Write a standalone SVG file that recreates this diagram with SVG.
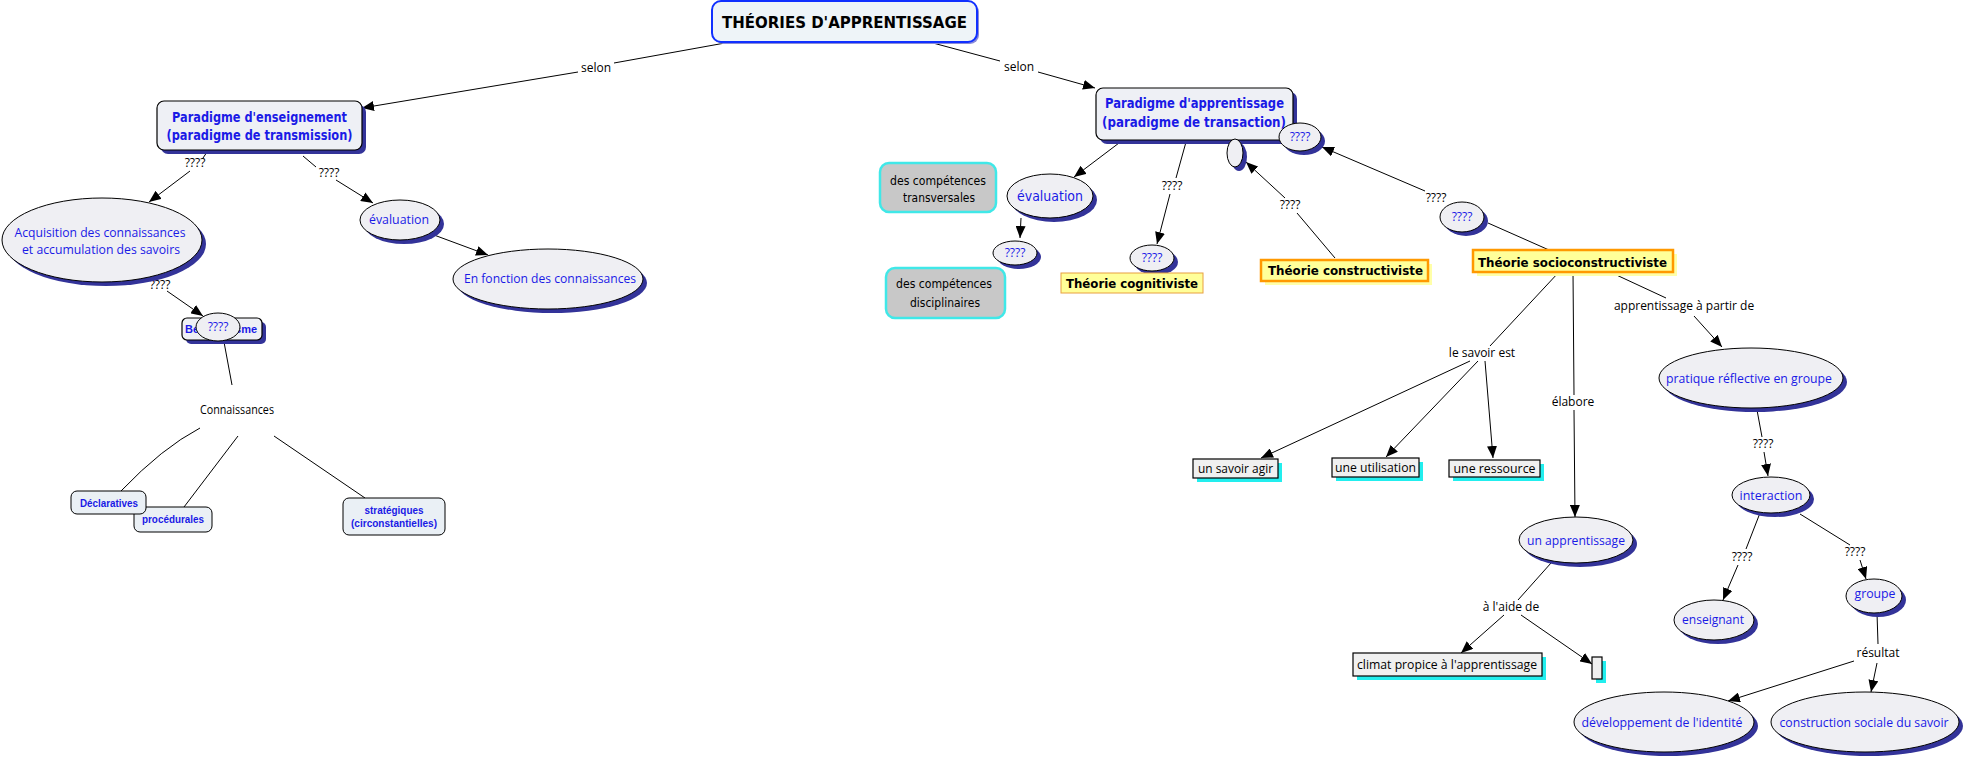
<svg xmlns="http://www.w3.org/2000/svg" width="1963" height="758" viewBox="0 0 1963 758">
<defs>
<marker id="arr" markerWidth="12" markerHeight="10" refX="12" refY="5" orient="auto" markerUnits="userSpaceOnUse"><path d="M0,0 L12,5 L0,10 z" fill="#000"/></marker>
</defs>
<style>
.cn{stroke:#000;stroke-width:1;fill:none}
.ca{stroke:#000;stroke-width:1;fill:none;marker-end:url(#arr)}
.lbl{font-family:"Open Sans","Liberation Sans",sans-serif;font-size:12px;fill:#000;text-anchor:middle}
.el{fill:#EFEFF3;stroke:#000;stroke-width:1}
.sh{fill:#333399}
.ysh{fill:#FFFFA8}
.csh{fill:#22EEEE}
.bt{font-family:"Open Sans","Liberation Sans",sans-serif;font-size:13px;fill:#1a1ae6;text-anchor:middle}
.ct{font-family:"DejaVu Sans","Liberation Sans",sans-serif;font-weight:bold;text-anchor:middle}
.cb{fill:#1a1ae6;font-size:14px}
.cy{fill:#000;font-size:13px}
.cr{font-family:"DejaVu Sans","Liberation Sans",sans-serif;text-anchor:middle}
.pb{fill:#EEF0F5;stroke:#000;stroke-width:1.2}
.sb{fill:#EAF0F5;stroke:#000;stroke-width:1}
.st{font-family:"Liberation Sans",Arial,sans-serif;font-weight:bold;font-size:10px;fill:#1a1ae6;text-anchor:middle}
.yb{fill:#FFFF99;stroke:#FF9900;stroke-width:2.5}
.gb{fill:#C8C8C8;stroke:#40E8E8;stroke-width:2.5}
.wb{fill:#F0F0F0;stroke:#000;stroke-width:1.2}
.wt{font-family:"Open Sans","Liberation Sans",sans-serif;font-size:13px;fill:#000;text-anchor:middle}
.q{font-family:"Open Sans","Liberation Sans",sans-serif;font-size:12px;fill:#1a1ae6;text-anchor:middle}
</style>
<rect width="1963" height="758" fill="#fff"/>
<g id="connectors">
<path class="cn" d="M725,43 L614,63"/><path class="ca" d="M578,72 L362,108"/>
<text class="lbl" x="596" y="72">selon</text>
<path class="cn" d="M933,43 L1000,61"/><path class="ca" d="M1038,72 L1095,88"/>
<text class="lbl" x="1019" y="71">selon</text>
<path class="cn" d="M207,152 L203,158"/><path class="ca" d="M190,171 L149,202"/>
<text class="lbl" x="195" y="167">????</text>
<path class="cn" d="M303,156 L316,167"/><path class="ca" d="M336,180 L373,203"/>
<text class="lbl" x="329" y="177">????</text>
<path class="ca" d="M434,235 L488,255"/>
<path class="ca" d="M167,291 L203,316"/>
<text class="lbl" x="160" y="289">????</text>
<path class="cn" d="M224,342 L232,385"/>
<path class="cn" d="M200,428 Q162,448 121,491"/>
<path class="cn" d="M238,436 L184,507"/>
<path class="cn" d="M274,436 L365,498"/>
<path class="ca" d="M1119,143 L1074,177"/>
<path class="ca" d="M1021,218 L1020,238"/>
<path class="cn" d="M1186,142 L1176,178"/><path class="ca" d="M1170,194 L1157,244"/>
<text class="lbl" x="1172" y="190">????</text>
<path class="cn" d="M1335,258 L1297,213"/><path class="ca" d="M1285,198 L1246,162"/>
<text class="lbl" x="1290" y="209">????</text>
<path class="cn" d="M1488,223 L1549,250"/>
<path class="ca" d="M1425,191 L1322,147"/>
<text class="lbl" x="1436" y="202">????</text>
<path class="cn" d="M1559,272 L1490,346"/>
<text class="lbl" x="1482" y="357">le savoir est</text>
<path class="ca" d="M1470,361 L1261,458"/>
<path class="ca" d="M1478,361 L1386,457"/>
<path class="ca" d="M1485,361 L1493,458"/>
<path class="cn" d="M1573,272 L1574,395"/><path class="ca" d="M1574,410 L1575,517"/>
<text class="lbl" x="1573" y="406">élabore</text>
<path class="cn" d="M1610,272 L1666,298"/><path class="ca" d="M1694,316 L1722,347"/>
<text class="lbl" x="1684" y="310">apprentissage à partir de</text>
<path class="cn" d="M1757,410 L1762,437"/><path class="ca" d="M1764,452 L1768,476"/>
<text class="lbl" x="1763" y="448">????</text>
<path class="cn" d="M1760,513 L1746,549"/><path class="ca" d="M1738,565 L1723,600"/>
<text class="lbl" x="1742" y="561">????</text>
<path class="cn" d="M1800,514 L1850,545"/><path class="ca" d="M1860,560 L1866,579"/>
<text class="lbl" x="1855" y="556">????</text>
<path class="cn" d="M1877,613 L1878,644"/><path class="ca" d="M1854,661 L1728,701"/><path class="ca" d="M1877,663 L1871,692"/>
<text class="lbl" x="1878" y="657">résultat</text>
<path class="cn" d="M1551,563 L1518,600"/><path class="ca" d="M1504,615 L1461,653"/><path class="ca" d="M1521,615 L1592,664"/>
<text class="lbl" x="1511" y="611">à l'aide de</text>
</g>
<g id="n-title">
<rect x="714" y="3" width="265" height="41" rx="9" fill="#8a8ad8"/>
<rect x="712" y="1" width="265" height="41" rx="9" fill="#EEF4F8" stroke="#1030ff" stroke-width="2"/>
<text class="ct" x="844.5" y="28" font-size="16" fill="#000" textLength="245" lengthAdjust="spacingAndGlyphs">THÉORIES D'APPRENTISSAGE</text>
</g>
<g id="n-par-ens">
<rect class="sh" x="161" y="105" width="205" height="49" rx="7"/>
<rect class="pb" x="157" y="101" width="205" height="49" rx="7"/>
<text class="ct cb" x="259.5" y="122" textLength="175" lengthAdjust="spacingAndGlyphs">Paradigme d'enseignement</text>
<text class="ct cb" x="259.5" y="140" textLength="186" lengthAdjust="spacingAndGlyphs">(paradigme de transmission)</text>
</g>
<g id="n-acq">
<ellipse class="sh" cx="106" cy="244" rx="100" ry="42"/>
<ellipse class="el" cx="102" cy="240" rx="100" ry="42"/>
<text class="bt" x="100" y="237" textLength="171" lengthAdjust="spacingAndGlyphs">Acquisition des connaissances</text>
<text class="bt" x="101" y="254" textLength="158" lengthAdjust="spacingAndGlyphs">et accumulation des savoirs</text>
</g>
<g id="n-eval-l">
<ellipse class="sh" cx="404" cy="224" rx="40" ry="20"/>
<ellipse class="el" cx="400" cy="220" rx="40" ry="20"/>
<text class="bt" x="399" y="224" textLength="60" lengthAdjust="spacingAndGlyphs">évaluation</text>
</g>
<g id="n-enfonction">
<ellipse class="sh" cx="552" cy="283" rx="95" ry="30"/>
<ellipse class="el" cx="548" cy="279" rx="95" ry="30"/>
<text class="bt" x="550" y="283" textLength="172" lengthAdjust="spacingAndGlyphs">En fonction des connaissances</text>
</g>
<g id="n-behav">
<rect class="sh" x="186" y="322" width="80" height="22" rx="5"/>
<rect class="pb" x="182" y="318" width="80" height="22" rx="5"/>
<text class="st" x="221" y="333" textLength="72" lengthAdjust="spacingAndGlyphs">Behaviorisme</text>
<ellipse class="el" cx="218" cy="327" rx="22" ry="14"/>
<text class="q" x="218" y="331">????</text>
</g>
<g id="n-conn">
<text class="lbl" x="237" y="414" font-size="11" textLength="74" lengthAdjust="spacingAndGlyphs">Connaissances</text>
</g>
<g id="n-proc">
<rect class="sb" x="134" y="507" width="78" height="25" rx="6"/>
<text class="st" x="173" y="523" textLength="62" lengthAdjust="spacingAndGlyphs">procédurales</text>
</g>
<g id="n-decl">
<rect class="sb" x="71" y="491" width="75" height="23" rx="6"/>
<text class="st" x="109" y="507" textLength="58" lengthAdjust="spacingAndGlyphs">Déclaratives</text>
</g>
<g id="n-strat">
<rect class="sb" x="343" y="498" width="102" height="37" rx="6"/>
<text class="st" x="394" y="514" textLength="59" lengthAdjust="spacingAndGlyphs">stratégiques</text>
<text class="st" x="394" y="527" textLength="86" lengthAdjust="spacingAndGlyphs">(circonstantielles)</text>
</g>
<g id="n-transv">
<rect class="gb" x="880" y="163" width="116" height="49" rx="9"/>
<text class="cr" x="938" y="185" font-size="12" textLength="96" lengthAdjust="spacingAndGlyphs">des compétences</text>
<text class="cr" x="939" y="202" font-size="12" textLength="72" lengthAdjust="spacingAndGlyphs">transversales</text>
</g>
<g id="n-discip">
<rect class="gb" x="886" y="268" width="119" height="50" rx="9"/>
<text class="cr" x="944" y="288" font-size="12" textLength="96" lengthAdjust="spacingAndGlyphs">des compétences</text>
<text class="cr" x="945" y="307" font-size="12" textLength="70" lengthAdjust="spacingAndGlyphs">disciplinaires</text>
</g>
<g id="n-eval-r">
<ellipse class="sh" cx="1054" cy="200" rx="43" ry="22"/>
<ellipse class="el" cx="1050" cy="196" rx="43" ry="22"/>
<text class="cr" x="1050" y="201" font-size="14" fill="#1a1ae6" textLength="66" lengthAdjust="spacingAndGlyphs">évaluation</text>
</g>
<g id="n-q-eval">
<ellipse class="sh" cx="1019" cy="257" rx="22" ry="12"/>
<ellipse class="el" cx="1015" cy="253" rx="22" ry="12"/>
<text class="q" x="1015" y="257">????</text>
</g>
<g id="n-par-app">
<rect class="sh" x="1100" y="92" width="197" height="52" rx="7"/>
<rect class="pb" x="1096" y="88" width="197" height="52" rx="7"/>
<text class="ct cb" x="1194.5" y="108" textLength="179" lengthAdjust="spacingAndGlyphs">Paradigme d'apprentissage</text>
<text class="ct cb" x="1194" y="127" textLength="184" lengthAdjust="spacingAndGlyphs">(paradigme de transaction)</text>
</g>
<g id="n-q-par">
<ellipse class="sh" cx="1304" cy="141" rx="21" ry="14"/>
<ellipse class="el" cx="1300" cy="137" rx="21" ry="14"/>
<text class="q" x="1300" y="141">????</text>
</g>
<g id="n-small-el">
<ellipse class="sh" cx="1239" cy="157" rx="8" ry="14"/>
<ellipse class="el" cx="1235" cy="153" rx="8" ry="14"/>
</g>
<g id="n-q-cog">
<ellipse class="sh" cx="1156" cy="262" rx="22" ry="13"/>
<ellipse class="el" cx="1152" cy="258" rx="22" ry="13"/>
<text class="q" x="1152" y="262">????</text>
</g>
<g id="n-cog">
<rect x="1061" y="273" width="142" height="20" fill="#FFFF99" stroke="#E8A040" stroke-width="1"/>
<text class="ct cy" x="1132" y="288" textLength="132" lengthAdjust="spacingAndGlyphs">Théorie cognitiviste</text>
</g>
<g id="n-constr">
<rect class="ysh" x="1265" y="264" width="167" height="21"/>
<rect class="yb" x="1261" y="260" width="167" height="21"/>
<text class="ct cy" x="1345.5" y="275" textLength="155" lengthAdjust="spacingAndGlyphs">Théorie constructiviste</text>
</g>
<g id="n-socio">
<rect class="ysh" x="1477" y="254" width="200" height="22"/>
<rect class="yb" x="1473" y="250" width="200" height="22"/>
<text class="ct cy" x="1572.5" y="267" textLength="189" lengthAdjust="spacingAndGlyphs">Théorie socioconstructiviste</text>
</g>
<g id="n-q-socio">
<ellipse class="sh" cx="1466" cy="221" rx="22" ry="15"/>
<ellipse class="el" cx="1462" cy="217" rx="22" ry="15"/>
<text class="q" x="1462" y="221">????</text>
</g>
<g id="n-pratique">
<ellipse class="sh" cx="1755" cy="382" rx="92" ry="30"/>
<ellipse class="el" cx="1751" cy="378" rx="92" ry="30"/>
<text class="bt" x="1749" y="383" textLength="166" lengthAdjust="spacingAndGlyphs">pratique réflective en groupe</text>
</g>
<g id="n-agir">
<rect class="csh" x="1197" y="463" width="85" height="19"/>
<rect class="wb" x="1193" y="459" width="85" height="19"/>
<text class="wt" x="1235.5" y="473" textLength="75" lengthAdjust="spacingAndGlyphs">un savoir agir</text>
</g>
<g id="n-util">
<rect class="csh" x="1336" y="462" width="87" height="19"/>
<rect class="wb" x="1332" y="458" width="87" height="19"/>
<text class="wt" x="1375.5" y="472" textLength="81" lengthAdjust="spacingAndGlyphs">une utilisation</text>
</g>
<g id="n-ress">
<rect class="csh" x="1453" y="464" width="91" height="17"/>
<rect class="wb" x="1449" y="460" width="91" height="17"/>
<text class="wt" x="1494.5" y="473" textLength="82" lengthAdjust="spacingAndGlyphs">une ressource</text>
</g>
<g id="n-unapp">
<ellipse class="sh" cx="1580" cy="544" rx="57" ry="23"/>
<ellipse class="el" cx="1576" cy="540" rx="57" ry="23"/>
<text class="bt" x="1576" y="545" textLength="98" lengthAdjust="spacingAndGlyphs">un apprentissage</text>
</g>
<g id="n-climat">
<rect class="csh" x="1357" y="657" width="189" height="23"/>
<rect class="wb" x="1353" y="653" width="189" height="23"/>
<text class="wt" x="1447" y="669" textLength="180" lengthAdjust="spacingAndGlyphs">climat propice à l'apprentissage</text>
</g>
<g id="n-empty">
<rect class="csh" x="1596" y="661" width="10" height="22"/>
<rect class="wb" x="1592" y="657" width="10" height="22"/>
</g>
<g id="n-inter">
<ellipse class="sh" cx="1775" cy="499" rx="39" ry="18"/>
<ellipse class="el" cx="1771" cy="495" rx="39" ry="18"/>
<text class="bt" x="1771" y="500" textLength="63" lengthAdjust="spacingAndGlyphs">interaction</text>
</g>
<g id="n-ens">
<ellipse class="sh" cx="1718" cy="624" rx="40" ry="20"/>
<ellipse class="el" cx="1714" cy="620" rx="40" ry="20"/>
<text class="bt" x="1713" y="624" textLength="62" lengthAdjust="spacingAndGlyphs">enseignant</text>
</g>
<g id="n-groupe">
<ellipse class="sh" cx="1878" cy="600" rx="28" ry="17"/>
<ellipse class="el" cx="1874" cy="596" rx="28" ry="17"/>
<text class="bt" x="1875" y="598" textLength="41" lengthAdjust="spacingAndGlyphs">groupe</text>
</g>
<g id="n-dev">
<ellipse class="sh" cx="1668" cy="726" rx="90" ry="30"/>
<ellipse class="el" cx="1664" cy="722" rx="90" ry="30"/>
<text class="bt" x="1662" y="727" textLength="161" lengthAdjust="spacingAndGlyphs">développement de l'identité</text>
</g>
<g id="n-constr-soc">
<ellipse class="sh" cx="1869" cy="726" rx="94" ry="30"/>
<ellipse class="el" cx="1865" cy="722" rx="94" ry="30"/>
<text class="bt" x="1864" y="727" textLength="169" lengthAdjust="spacingAndGlyphs">construction sociale du savoir</text>
</g>
</svg>
